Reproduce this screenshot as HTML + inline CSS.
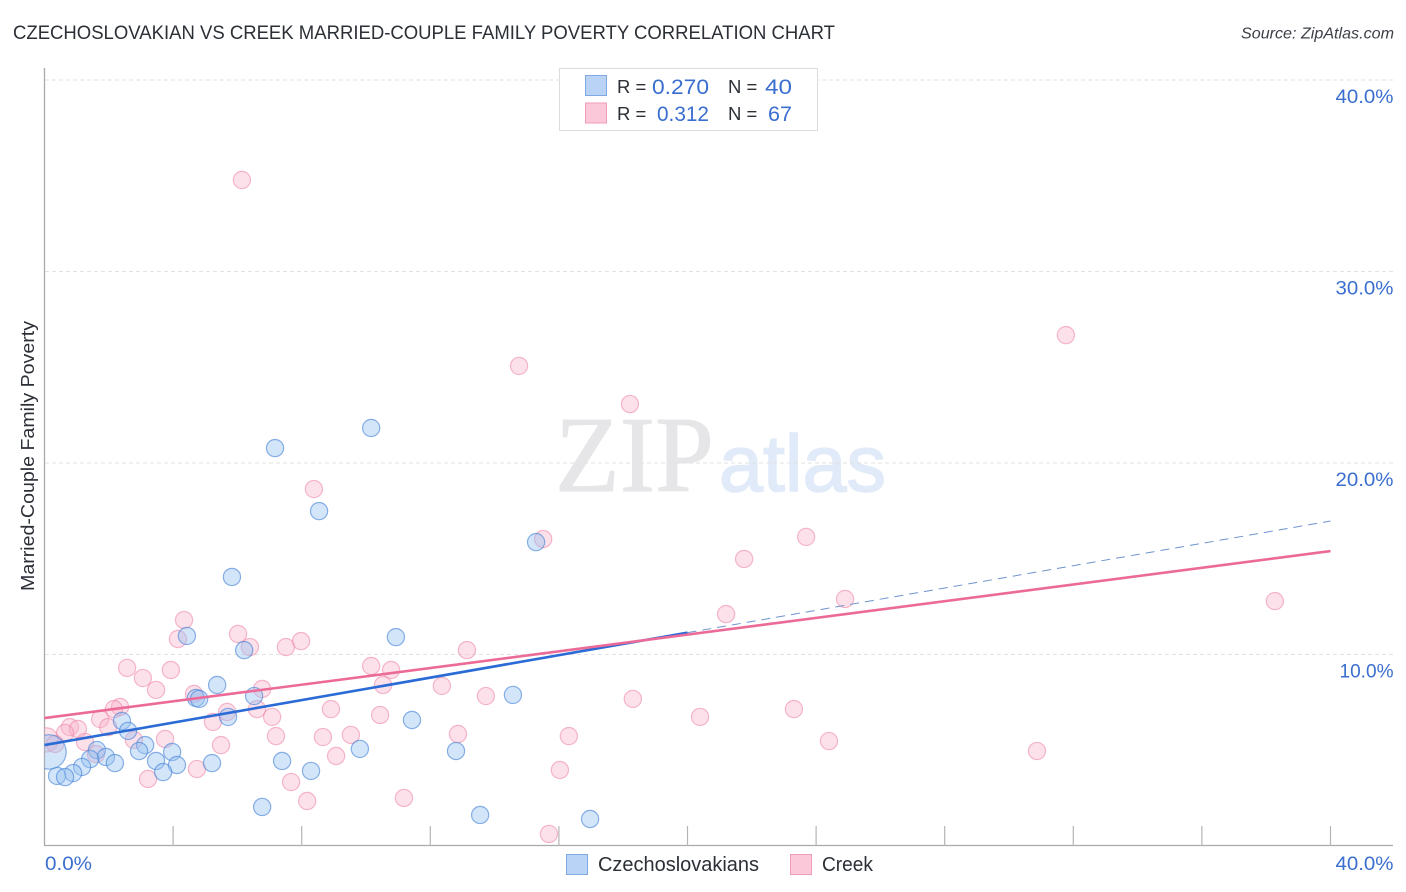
<!DOCTYPE html>
<html lang="en">
<head>
<meta charset="utf-8">
<title>Czechoslovakian vs Creek Married-Couple Family Poverty Correlation Chart</title>
<style>
html,body{margin:0;padding:0;background:#fff;width:1406px;height:892px;overflow:hidden}
svg{display:block}
text{font-family:"Liberation Sans",sans-serif}
</style>
</head>
<body>
<svg id="chart" width="1406" height="892" viewBox="0 0 1406 892" xmlns="http://www.w3.org/2000/svg">
<defs><clipPath id="plot-clip"><rect x="44.5" y="60" width="1350" height="786"/></clipPath></defs>
<text x="13" y="39" font-size="19" fill="#2b2f36" textLength="822" lengthAdjust="spacingAndGlyphs">CZECHOSLOVAKIAN VS CREEK MARRIED-COUPLE FAMILY POVERTY CORRELATION CHART</text>
<text x="1394" y="38.5" font-size="16" font-style="italic" fill="#3c4048" text-anchor="end" textLength="153" lengthAdjust="spacingAndGlyphs">Source: ZipAtlas.com</text>
<g id="watermark">
<text x="555" y="491" style="font-family:'Liberation Serif',serif" font-size="108" fill="#e6e6e8" stroke="#e6e6e8" stroke-width="1" textLength="159" lengthAdjust="spacingAndGlyphs">ZIP</text>
<text x="719" y="491" font-size="80" fill="#e0eaf9" stroke="#e0eaf9" stroke-width="1.5" textLength="167" lengthAdjust="spacingAndGlyphs">atlas</text>
</g>
<g id="grid"></g>
<g id="axes"></g>
<g id="marks" clip-path="url(#plot-clip)"></g>
<g id="trends"></g>
<text transform="translate(34 456) rotate(-90)" font-size="18.5" fill="#2b2f36" text-anchor="middle" textLength="270" lengthAdjust="spacingAndGlyphs">Married-Couple Family Poverty</text>

<g>
<rect x="559.5" y="68.5" width="258" height="62" fill="#fff" stroke="#dcdcdc"/>
<rect x="585.5" y="75.5" width="21" height="20" fill="#b9d3f6" stroke="#7ea9e2"/>
<rect x="585.5" y="103" width="21" height="20" fill="#fbc8d9" stroke="#f09db9"/>
<text x="617" y="93" font-size="18.5" fill="#2b2f36">R =</text>
<text x="709" y="94" font-size="21" fill="#3a6fd0" text-anchor="end" textLength="57" lengthAdjust="spacingAndGlyphs">0.270</text>
<text x="728" y="93" font-size="18.5" fill="#2b2f36">N =</text>
<text x="792" y="94" font-size="21" fill="#3a6fd0" text-anchor="end" textLength="27" lengthAdjust="spacingAndGlyphs">40</text>
<text x="617" y="120" font-size="18.5" fill="#2b2f36">R =</text>
<text x="709" y="121" font-size="21" fill="#3a6fd0" text-anchor="end" textLength="52" lengthAdjust="spacingAndGlyphs">0.312</text>
<text x="728" y="120" font-size="18.5" fill="#2b2f36">N =</text>
<text x="792" y="121" font-size="21" fill="#3a6fd0" text-anchor="end" textLength="24" lengthAdjust="spacingAndGlyphs">67</text>
</g>

<g>
<rect x="566.5" y="854.5" width="21" height="20" fill="#b9d3f6" stroke="#7ea9e2"/>
<text x="598" y="871" font-size="20" fill="#2b2f36" textLength="161" lengthAdjust="spacingAndGlyphs">Czechoslovakians</text>
<rect x="790.5" y="854.5" width="21" height="20" fill="#fbc8d9" stroke="#f09db9"/>
<text x="822" y="871" font-size="20" fill="#2b2f36" textLength="51" lengthAdjust="spacingAndGlyphs">Creek</text>
</g>
</svg>
<script>
const NS = 'http://www.w3.org/2000/svg';

const blueX = [7.17,10.16,8.54,15.29,5.83,4.43,6.21,10.93,5.37,4.71,4.81,6.52,5.71,14.57,11.43,2.41,2.60,3.13,2.94,1.63,1.91,1.42,2.19,1.17,0.89,0.39,0.64,3.47,3.97,4.12,3.69,5.21,7.39,8.29,9.81,12.80,6.77,13.55,16.97,0.14];
const blueY = [20.78,21.83,17.49,15.87,14.05,10.97,10.23,10.91,8.41,7.73,7.68,7.83,6.74,7.89,6.58,6.53,6.01,5.27,4.96,5.01,4.65,4.54,4.33,4.13,3.81,3.66,3.60,4.44,4.91,4.23,3.86,4.33,4.44,3.92,5.07,4.96,2.04,1.62,1.41,4.91];
const blueWeight = [1,1,1,1,1,1,1,1,1,1,1,1,1,1,1,1,1,1,1,1,1,1,1,1,1,1,1,1,1,1,1,1,1,1,1,1,1,1,1,4];

const pinkX = [6.14,31.77,14.76,18.21,8.38,15.51,23.69,21.76,24.90,38.27,21.20,4.34,4.15,6.02,6.39,7.51,7.98,13.14,2.57,3.06,3.93,3.47,4.65,6.77,10.16,10.78,10.53,12.36,13.73,18.30,20.39,23.31,8.91,2.35,2.16,1.73,6.61,5.68,5.24,7.08,7.20,10.44,0.79,1.04,0.64,1.98,1.26,2.78,3.75,5.49,8.66,9.53,12.86,16.31,24.40,30.87,9.07,1.60,3.22,4.74,7.67,16.03,8.17,11.18,15.69,0.05,0.33];
const pinkY = [34.78,26.68,25.07,23.08,18.64,16.03,16.14,14.99,12.90,12.79,12.11,11.80,10.81,11.07,10.39,10.39,10.70,10.23,9.30,8.77,9.19,8.15,7.94,8.20,9.40,9.19,8.41,8.36,7.83,7.68,6.74,7.15,7.15,7.26,7.15,6.63,7.15,7.00,6.48,6.74,5.74,6.84,6.21,6.11,5.90,6.21,5.43,5.54,5.59,5.27,5.69,5.80,5.85,5.74,5.48,4.96,4.70,4.80,3.50,4.02,3.34,3.97,2.35,2.51,0.63,5.54,5.33];
const pinkWeight = [1,1,1,1,1,1,1,1,1,1,1,1,1,1,1,1,1,1,1,1,1,1,1,1,1,1,1,1,1,1,1,1,1,1,1,1,1,1,1,1,1,1,1,1,1,1,1,1,1,1,1,1,1,1,1,1,1,1,1,1,1,1,1,1,1,2,1];

const blueTrendX = [0, 20];
const blueTrendY = [5.27, 11.14];
const blueForecastX = [20, 40];
const blueForecastY = [11.14, 16.97];
const pinkTrendX = [0, 40];
const pinkTrendY = [6.68, 15.4];

const yTicks = [10, 20, 30, 40];
const yTickLabels = ['10.0%', '20.0%', '30.0%', '40.0%'];
const xTicks = [0, 4, 8, 12, 16, 20, 24, 28, 32, 36, 40];
const xEndTicks = [0, 40];
const xEndLabels = ['0.0%', '40.0%'];

function xScale(v) { return 44.5 + v * 32.15; }
function yScale(v) { return 846 - v * 19.15; }

function make(parent, tag, attrs) {
  const el = document.createElementNS(NS, tag);
  for (const k in attrs) el.setAttribute(k, attrs[k]);
  parent.appendChild(el);
  return el;
}

const grid = document.getElementById('grid');
const axes = document.getElementById('axes');
const marks = document.getElementById('marks');
const trends = document.getElementById('trends');

yTicks.forEach(function (t, i) {
  const line = make(grid, 'line', {x1: 45, x2: 1393, y1: yScale(t), y2: yScale(t), stroke: '#e2e2e2', 'stroke-width': 1, 'stroke-dasharray': '4 3'});
  
  
  const label = make(axes, 'text', {x: 1393.5, y: yScale(t) + 23, 'font-size': 19, fill: '#3a6fd0', 'text-anchor': 'end', textLength: t === 10 ? 54 : 58, lengthAdjust: 'spacingAndGlyphs'});
  label.textContent = yTickLabels[i];
  
  
});

const yAxisLine = make(axes, 'line', {x1: 44.5, x2: 44.5, y1: 68, y2: 846, stroke: '#aaaaaa', 'stroke-width': 1.3});


const xAxisLine = make(axes, 'line', {x1: 44, x2: 1393, y1: 845.5, y2: 845.5, stroke: '#aaaaaa', 'stroke-width': 1.3});



xTicks.forEach(function (t) {
  if (t === 0) return;
  const tick = make(axes, 'line', {x1: xScale(t), x2: xScale(t), y1: 826, y2: 846, stroke: '#b4b4b4', 'stroke-width': 1.2});
  
  
});

xEndTicks.forEach(function (t, i) {
  const label = make(axes, 'text', {x: t === 0 ? 45 : 1393.5, y: 870, 'font-size': 19, fill: '#3a6fd0', 'text-anchor': t === 0 ? 'start' : 'end', textLength: t === 0 ? 47 : 58, lengthAdjust: 'spacingAndGlyphs'});
  label.textContent = xEndLabels[i];
  
  
});

pinkX.forEach(function (v, i) {
  const c = make(marks, 'circle', {cx: xScale(v), cy: yScale(pinkY[i]), r: 8.6 * Math.sqrt(pinkWeight[i]), fill: 'rgba(248,175,200,0.38)', stroke: 'rgba(236,130,165,0.55)', 'stroke-width': 1.2});
  
  
});
blueX.forEach(function (v, i) {
  const c = make(marks, 'circle', {cx: xScale(v), cy: yScale(blueY[i]), r: 8.6 * Math.sqrt(blueWeight[i]), fill: 'rgba(150,192,240,0.42)', stroke: 'rgba(70,130,215,0.62)', 'stroke-width': 1.2});
  
  
});

const forecast = make(trends, 'line', {x1: xScale(blueForecastX[0]), y1: yScale(blueForecastY[0]), x2: xScale(blueForecastX[1]), y2: yScale(blueForecastY[1]), stroke: '#6f93cf', 'stroke-width': 1, 'stroke-dasharray': '9 6'});


const blueTrend = make(trends, 'line', {x1: xScale(blueTrendX[0]), y1: yScale(blueTrendY[0]), x2: xScale(blueTrendX[1]), y2: yScale(blueTrendY[1]), stroke: '#2a6bd6', 'stroke-width': 2.6});


const pinkTrend = make(trends, 'line', {x1: xScale(pinkTrendX[0]), y1: yScale(pinkTrendY[0]), x2: xScale(pinkTrendX[1]), y2: yScale(pinkTrendY[1]), stroke: '#ec6a98', 'stroke-width': 2.6});


</script>
</body>
</html>
